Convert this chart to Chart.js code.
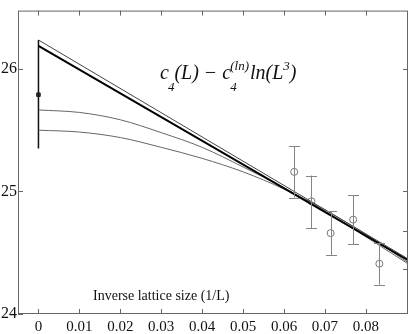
<!DOCTYPE html>
<html>
<head>
<meta charset="utf-8">
<script src="https://cdn.jsdelivr.net/npm/chart.js@4.4.1/dist/chart.umd.min.js"></script>
<style>
  html, body { margin: 0; padding: 0; background: #fff; }
  #wrap { width: 414px; height: 334px; }
</style>
</head>
<body>
<div id="wrap"><canvas id="myChart" width="414" height="334"></canvas></div>
<script>
const X_TICKS = [0, 0.01, 0.02, 0.03, 0.04, 0.05, 0.06, 0.07, 0.08]
const X_TICK_LABELS = ['0', '0.01', '0.02', '0.03', '0.04', '0.05', '0.06', '0.07', '0.08']
const Y_TICKS = [24, 25, 26]
const Y_RIGHT_TICKS = [26, 25, 24.68, 24.37]

// measured points 1/L for L = 16, 15, 14, 13, 12
const POINT_X = [0.0625, 0.0667, 0.0714, 0.0769, 0.0833]
const POINT_Y = [25.16, 24.92, 24.66, 24.77, 24.41]
const POINT_LO = [24.95, 24.70, 24.48, 24.57, 24.24]
const POINT_HI = [25.37, 25.13, 24.84, 24.97, 24.58]

// extrapolated value at 1/L = 0
const EXTRAP_X = [0]
const EXTRAP_Y = [25.79]
const EXTRAP_LO = 25.35
const EXTRAP_HI = 26.236

// fit lines
const LINE_X = [0, 0.0903]
const LINE_UPPER = [26.236, 24.45]
const LINE_THICK = [26.188, 24.44]

// curved fits
const CURVE_X = [0, 0.01, 0.02, 0.03, 0.04, 0.05, 0.06, 0.07, 0.08, 0.0903]
const CURVE_1 = [25.665, 25.645, 25.585, 25.48, 25.36, 25.20, 25.03, 24.84, 24.63, 24.41]
const CURVE_2 = [25.50, 25.485, 25.44, 25.36, 25.27, 25.16, 25.02, 24.85, 24.65, 24.42]

const SERIF = '"Liberation Serif", "DejaVu Serif", serif'

const pts = (xs, ys) => xs.map((x, i) => ({ x, y: ys[i] }))

const frame = {
  id: 'frame',
  afterDatasetsDraw(chart) {
    const { ctx, chartArea: a, scales: { x, y } } = chart
    ctx.save()
    // error bars
    ctx.strokeStyle = '#858585'
    ctx.lineWidth = 1
    POINT_X.forEach((v, i) => {
      const px = Math.round(x.getPixelForValue(v)) + 0.5
      const lo = y.getPixelForValue(POINT_LO[i])
      const hi = y.getPixelForValue(POINT_HI[i])
      ctx.beginPath()
      ctx.moveTo(px, lo); ctx.lineTo(px, hi)
      ctx.moveTo(px - 5.5, Math.round(lo) + 0.5); ctx.lineTo(px + 5.5, Math.round(lo) + 0.5)
      ctx.moveTo(px - 5.5, Math.round(hi) + 0.5); ctx.lineTo(px + 5.5, Math.round(hi) + 0.5)
      ctx.stroke()
    })
    // box
    ctx.strokeStyle = '#666'
    ctx.strokeRect(a.left + 0.5, a.top + 0.5, a.right - a.left - 1, a.bottom - a.top - 1)
    // inward ticks
    ctx.beginPath()
    X_TICKS.forEach(v => {
      const px = Math.round(x.getPixelForValue(v)) + 0.5
      ctx.moveTo(px, a.bottom); ctx.lineTo(px, a.bottom - 5)
      ctx.moveTo(px, a.top); ctx.lineTo(px, a.top + 5)
    })
    Y_TICKS.forEach(v => {
      const py = Math.round(y.getPixelForValue(v)) + 0.5
      ctx.moveTo(a.left, py); ctx.lineTo(a.left + 5, py)
    })
    Y_RIGHT_TICKS.forEach(v => {
      const py = Math.round(y.getPixelForValue(v)) + 0.5
      ctx.moveTo(a.right, py); ctx.lineTo(a.right - 5, py)
    })
    ctx.stroke()

    // axis title inside the plot
    ctx.fillStyle = '#111'
    ctx.textBaseline = 'alphabetic'
    ctx.font = '14px ' + SERIF
    ctx.fillText('Inverse lattice size (1/L)', 93, 300)

    // formula
    const big = 'italic 20px ' + SERIF
    const small = 'italic 13px ' + SERIF
    const base = 79
    let cx = 160
    const put = (t, f, dy, gap = 0) => {
      ctx.font = f
      ctx.fillText(t, cx, base + dy)
      cx += ctx.measureText(t).width + gap
    }
    put('c', big, 0, -1)
    put('4', small, 12)
    put('(L)', big, 0, 5)
    put('\u2212', big, 0, 5)
    put('c', big, 0, -1)
    ctx.font = small
    ctx.fillText('4', cx, base + 12)
    put('(ln)', small, -9, 1)
    put('ln(L', big, 0)
    put('3', small, -9)
    put(')', big, 0)
    ctx.restore()
  },
}

const config = {
  type: 'line',
  data: {
    datasets: [
      {
        data: pts(LINE_X, LINE_UPPER),
        borderColor: '#444', borderWidth: 1, pointRadius: 0,
      },
      {
        data: pts(LINE_X, LINE_THICK),
        borderColor: '#000', borderWidth: 2, pointRadius: 0,
      },
      {
        data: pts(CURVE_X, CURVE_1),
        borderColor: '#666', borderWidth: 1, pointRadius: 0,
        cubicInterpolationMode: 'monotone',
      },
      {
        data: pts(CURVE_X, CURVE_2),
        borderColor: '#666', borderWidth: 1, pointRadius: 0,
        cubicInterpolationMode: 'monotone',
      },
      {
        data: [{ x: 0, y: EXTRAP_LO }, { x: 0, y: EXTRAP_HI }],
        borderColor: '#111', borderWidth: 1.5, pointRadius: 0,
      },
      {
        data: pts(EXTRAP_X, EXTRAP_Y),
        showLine: false, pointStyle: 'rect', pointRadius: 2.5,
        backgroundColor: '#444', borderColor: '#222', borderWidth: 1,
      },
      {
        data: pts(POINT_X, POINT_Y),
        showLine: false, pointStyle: 'circle', pointRadius: 3.5,
        backgroundColor: 'rgba(255,255,255,0)', borderColor: '#777', borderWidth: 1,
      },
    ],
  },
  options: {
    responsive: false,
    animation: false,
    events: [],
    layout: { padding: { top: 4, right: 6, left: 0, bottom: 0 } },
    plugins: { legend: { display: false }, tooltip: { enabled: false } },
    scales: {
      x: {
        type: 'linear',
        min: -0.005,
        max: 0.0903,
        grid: { display: false, drawTicks: false },
        border: { display: false },
        afterBuildTicks: s => { s.ticks = X_TICKS.map(v => ({ value: v })) },
        afterFit: s => { s.height = 20 },
        ticks: {
          color: '#111', padding: 4,
          font: { family: SERIF, size: 15 },
          callback: (v, i) => X_TICK_LABELS[i],
        },
      },
      y: {
        type: 'linear',
        min: 24,
        max: 26.476,
        grid: { display: false, drawTicks: false },
        border: { display: false },
        afterBuildTicks: s => { s.ticks = Y_TICKS.map(v => ({ value: v })) },
        afterFit: s => { s.width = 18 },
        ticks: {
          color: '#111', padding: 1,
          font: { family: SERIF, size: 16 },
          callback: v => String(v),
        },
      },
    },
  },
  plugins: [frame],
}

new Chart(document.getElementById('myChart'), config)
</script>
</body>
</html>
